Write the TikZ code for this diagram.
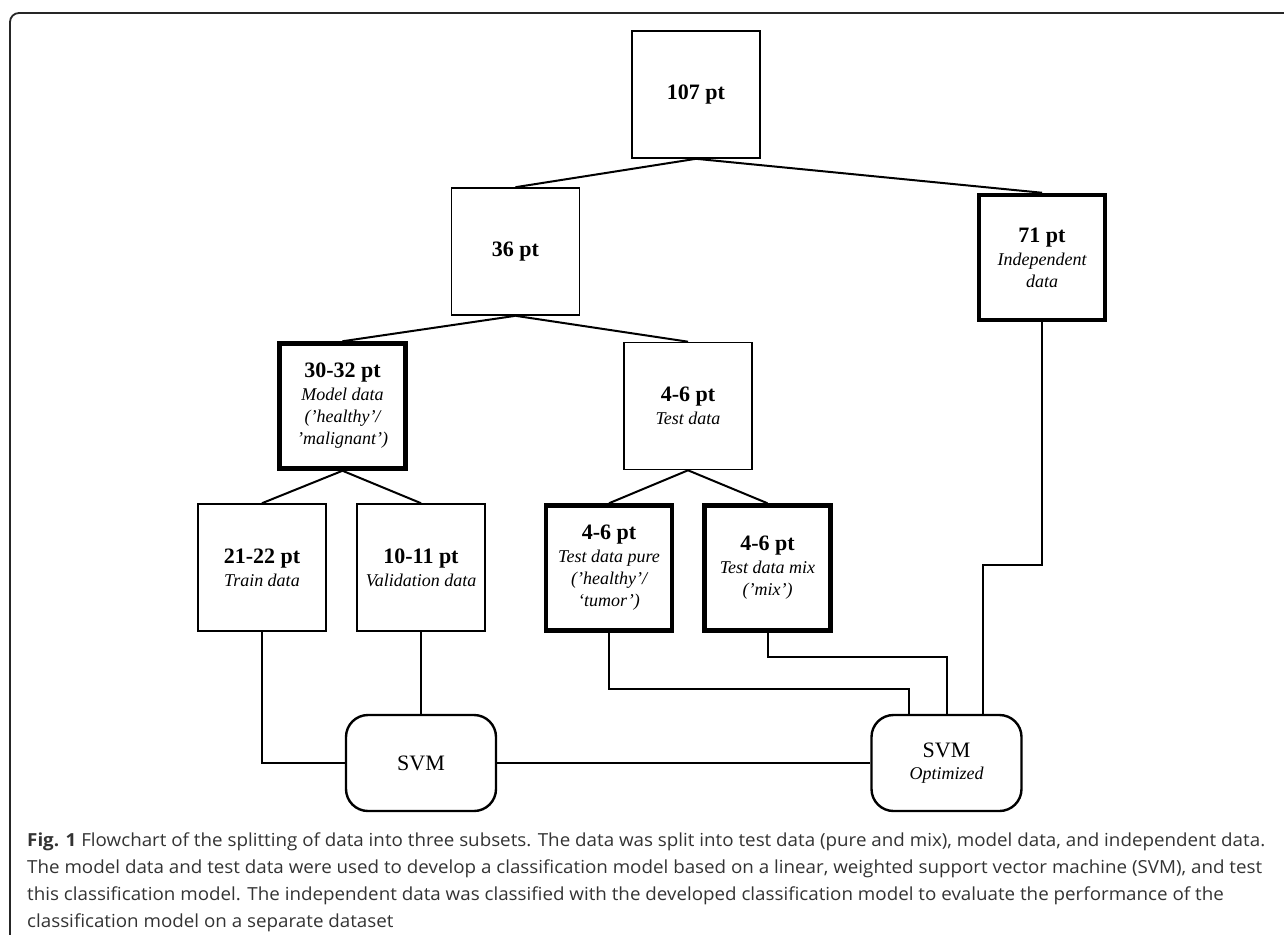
\documentclass[tikz,border=0pt]{standalone}
\usepackage{fontspec}
\setmainfont{Liberation Serif}
\newfontfamily\capfont{Open Sans}
\usetikzlibrary{calc}
\newlength\capw
\newcommand\capsetup{\capfont\fontsize{18}{22}\selectfont}
\newcommand\capone{\textbf{Fig. 1} Flowchart of the splitting of data into three subsets. The data was split into test data (pure and mix), model data, and independent data.}
\newcommand\captwo{The model data and test data were used to develop a classification model based on a linear, weighted support vector machine (SVM), and test}
\newcommand\capthree{this classification model. The independent data was classified with the developed classification model to evaluate the performance of the}
\newcommand\capfour{classification model on a separate dataset}
\tikzset{
  thinbox/.style={draw, line width=1.6pt, minimum width=128pt, minimum height=127pt, inner sep=0pt, align=center, font=\fontsize{18}{22}\selectfont},
  thickbox/.style={draw, line width=4.5pt, minimum width=126pt, minimum height=125pt, inner sep=0pt, align=center, font=\fontsize{18}{22}\selectfont},
  svmbox/.style={draw, line width=2.4pt, rounded corners=22pt, minimum width=150pt, minimum height=96pt, inner sep=0pt, align=center, font=\fontsize{18}{22}\selectfont},
  conn/.style={line width=2pt},
  frame/.style={line width=1.8pt, black!85, rounded corners=9pt},
  captext/.style={anchor=base west, inner sep=0pt, text=black!80}
}
\newcommand\hd[1]{{\fontsize{22}{24}\selectfont\bfseries #1}\\[1pt]}
\begin{document}
\settowidth{\capw}{\capsetup\capone}%
\pgfmathsetmacro\capsx{1238/\capw}%
\begin{tikzpicture}[x=1pt,y=-1pt]
\useasboundingbox (0,0) rectangle (1284,934);
\fill[white] (0,0) rectangle (1284,934);
\draw[frame] (1300,13) -- (10,13) -- (10,950);

\node[thinbox] (n107) at (696,94.5) {{\fontsize{22}{24}\selectfont\bfseries 107 pt}};
\node[thinbox] (n36) at (515.5,251.5) {{\fontsize{22}{24}\selectfont\bfseries 36 pt}};
\node[thickbox] (n71) at (1042,257.5) {\hd{71 pt}\itshape Independent\\\itshape data};
\node[thickbox] (n3032) at (342.5,406) {\hd{30-32 pt}\itshape Model data\\\itshape (’healthy’/\\\itshape ’malignant’)};
\node[thinbox] (ntest) at (688,406) {\hd{4-6 pt}\itshape Test data};
\node[thinbox] (ntrain) at (262,567.5) {\hd{21-22 pt}\itshape Train data};
\node[thinbox] (nval) at (421,567.5) {\hd{10-11 pt}\itshape Validation data};
\node[thickbox] (npure) at (609,568) {\hd{4-6 pt}\itshape Test data pure\\\itshape (’healthy’/\\\itshape ‘tumor’)};
\node[thickbox] (nmix) at (767.5,568) {\hd{4-6 pt}\itshape Test data mix\\\itshape (’mix’)};
\node[svmbox] (nsvm) at (421,763) {{\fontsize{22}{24}\selectfont SVM}};
\node[svmbox] (nopt) at (946.5,763) {{\fontsize{22}{24}\selectfont SVM}\\\itshape Optimized};

\coordinate (j1) at (909,689);
\coordinate (j2) at (947,657);
\coordinate (j3) at (983,565);

\draw[conn] (n107.south) -- (n36.north);
\draw[conn] (n107.south) -- (n71.north);
\draw[conn] (n36.south) -- (n3032.north);
\draw[conn] (n36.south) -- (ntest.north);
\draw[conn] (n3032.south) -- (ntrain.north);
\draw[conn] (n3032.south) -- (nval.north);
\draw[conn] (ntest.south) -- (npure.north);
\draw[conn] (ntest.south) -- (nmix.north);
\draw[conn] (ntrain.south) |- (nsvm.west);
\draw[conn] (nval.south) -- (nsvm.north);
\draw[conn] (nsvm.east) -- (nopt.west);
\draw[conn] (npure.south) |- (j1) -- (j1 |- nopt.north);
\draw[conn] (nmix.south) |- (j2) -- (j2 |- nopt.north);
\draw[conn] (n71.south) |- (j3) -- (j3 |- nopt.north);

\node[captext] (c1) at (27,846) {\scalebox{\capsx}[1]{\capsetup\capone}};
\node[captext] (c2) at (27,873) {\scalebox{\capsx}[1]{\capsetup\captwo}};
\node[captext] (c3) at (27,900) {\scalebox{\capsx}[1]{\capsetup\capthree}};
\node[captext] (c4) at (27,927) {\scalebox{\capsx}[1]{\capsetup\capfour}};
\end{tikzpicture}
\end{document}
